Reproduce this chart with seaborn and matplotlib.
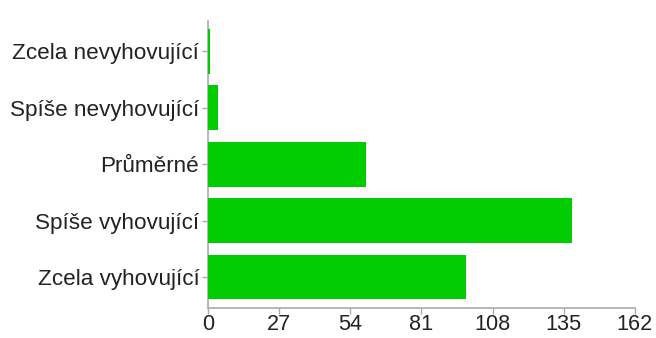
import pandas as pd
import numpy as np
import matplotlib
matplotlib.use("Agg")
import matplotlib.pyplot as plt
import seaborn as sns

# hodnoty
kategorie = ["Zcela nevyhovující", "Spíše nevyhovující", "Průměrné",
             "Spíše vyhovující", "Zcela vyhovující"]
pocty = [1, 4, 60, 138, 98]
x_ticks = [0, 27, 54, 81, 108, 135, 162]

sns.set_style("white")
plt.rcParams['font.family'] = ['Liberation Sans', 'DejaVu Sans']

df = pd.DataFrame({'kategorie': kategorie, 'pocet': pocty})

fig = plt.figure(figsize=(6.56, 3.38), dpi=100)
ax = fig.add_axes([207.7 / 656, 1 - 308 / 338, (635 - 207.7) / 656, (308 - 21) / 338])

sns.barplot(data=df, x='pocet', y='kategorie', orient='h', color='#00cc00',
            saturation=1, width=0.795, edgecolor='none', zorder=3, ax=ax)

ax.set_xlim(0, 162)
ax.set_ylim(4.549, -0.539)
ax.set_xticks(x_ticks)
ax.set_xlabel('')
ax.set_ylabel('')

for side in ['top', 'right']:
    ax.spines[side].set_visible(False)
for side in ['left', 'bottom']:
    ax.spines[side].set_color('#aaaaaa')
    ax.spines[side].set_linewidth(1.2)

ax.tick_params(axis='both', which='both', length=4, width=1, color='#aaaaaa',
               labelcolor='#222222')
ax.tick_params(axis='x', bottom=True, labelsize=15.6, pad=0)
ax.tick_params(axis='y', left=True, labelsize=16.2, pad=2)
ax.grid(False)

fig.savefig('out.png', dpi=100)
